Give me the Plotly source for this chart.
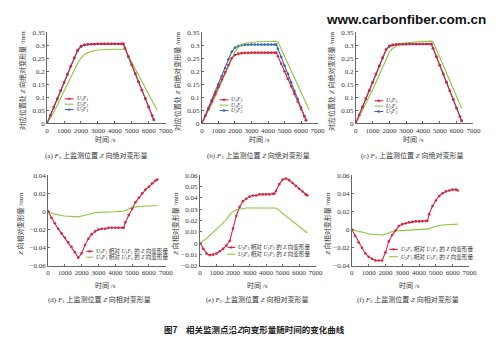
import plotly.graph_objects as go

# ---------------- data ----------------
T_ABS = [0, 200, 400, 600, 800, 1000, 1200, 1400, 1600, 1800, 2000, 2200, 2400, 2600,
         2800, 3000, 3200, 3400, 3600, 3800, 4000, 4200, 4400, 4500, 4600, 4800, 5000,
         5200, 5400, 5600, 5800, 6000, 6200, 6300]
T_LONG = [0, 200, 400, 600, 800, 1000, 1200, 1400, 1600, 1800, 2000, 2200, 2400, 2600,
          2800, 3000, 3200, 3400, 3600, 3800, 4000, 4200, 4400, 4500, 4600, 4800, 5000,
          5200, 5400, 5600, 5800, 6000, 6200, 6400, 6500]

# (a) F1 absolute
A_RED = [0, 0.031, 0.063, 0.094, 0.126, 0.157, 0.189, 0.220, 0.252, 0.282, 0.297, 0.302,
         0.304, 0.305, 0.305, 0.306, 0.306, 0.306, 0.306, 0.306, 0.306, 0.306, 0.306, 0.306,
         0.290, 0.257, 0.225, 0.192, 0.160, 0.128, 0.095, 0.063, 0.030, 0.014]
A_GREEN = [0, 0.019, 0.043, 0.069, 0.096, 0.124, 0.152, 0.180, 0.207, 0.231, 0.251, 0.264,
           0.272, 0.277, 0.280, 0.282, 0.283, 0.284, 0.284, 0.285, 0.285, 0.285, 0.285, 0.285,
           0.284, 0.259, 0.235, 0.210, 0.185, 0.161, 0.136, 0.112, 0.087, 0.062, 0.050]
A_BLUE = [0, 0.030, 0.062, 0.093, 0.125, 0.156, 0.187, 0.219, 0.250, 0.279, 0.295, 0.301,
          0.303, 0.304, 0.304, 0.305, 0.305, 0.305, 0.305, 0.305, 0.305, 0.305, 0.305, 0.305,
          0.289, 0.256, 0.224, 0.191, 0.159, 0.127, 0.094, 0.062, 0.029, 0.013]

# (b) F2 absolute
B_RED = [0, 0.028, 0.056, 0.084, 0.112, 0.140, 0.168, 0.196, 0.224, 0.250, 0.263, 0.268,
         0.270, 0.271, 0.271, 0.272, 0.272, 0.272, 0.272, 0.272, 0.272, 0.272, 0.272, 0.272,
         0.258, 0.229, 0.200, 0.171, 0.142, 0.113, 0.084, 0.055, 0.026, 0.012]
B_GREEN = [0, 0.023, 0.047, 0.074, 0.102, 0.132, 0.162, 0.192, 0.222, 0.251, 0.275, 0.292,
           0.302, 0.308, 0.310, 0.312, 0.313, 0.314, 0.314, 0.315, 0.315, 0.315, 0.315, 0.315,
           0.314, 0.286, 0.258, 0.231, 0.203, 0.175, 0.147, 0.120, 0.092, 0.064, 0.050]
B_BLUE = [0, 0.030, 0.059, 0.089, 0.119, 0.150, 0.181, 0.213, 0.245, 0.275, 0.291, 0.297,
          0.300, 0.302, 0.302, 0.303, 0.303, 0.303, 0.303, 0.303, 0.303, 0.303, 0.303, 0.303,
          0.287, 0.255, 0.222, 0.190, 0.158, 0.125, 0.093, 0.061, 0.028, 0.012]

# (c) F3 absolute
C_RED = [0, 0.032, 0.063, 0.095, 0.126, 0.158, 0.190, 0.221, 0.253, 0.284, 0.298, 0.302,
         0.303, 0.304, 0.304, 0.304, 0.305, 0.305, 0.305, 0.305, 0.305, 0.305, 0.305, 0.305,
         0.289, 0.256, 0.223, 0.190, 0.158, 0.125, 0.092, 0.059, 0.026, 0.010]
C_GREEN = [0, 0.025, 0.049, 0.075, 0.100, 0.128, 0.158, 0.187, 0.219, 0.250, 0.273, 0.289,
           0.297, 0.303, 0.308, 0.310, 0.312, 0.313, 0.314, 0.314, 0.315, 0.315, 0.315, 0.316,
           0.314, 0.284, 0.254, 0.224, 0.194, 0.164, 0.134, 0.104, 0.074, 0.058]
C_BLUE = [0, 0.031, 0.062, 0.094, 0.125, 0.157, 0.188, 0.220, 0.251, 0.282, 0.296, 0.301,
          0.303, 0.304, 0.304, 0.305, 0.305, 0.305, 0.305, 0.305, 0.305, 0.305, 0.305, 0.305,
          0.289, 0.256, 0.223, 0.190, 0.157, 0.124, 0.091, 0.058, 0.025, 0.009]

# (d) F1 relative
D_RED = [0, -0.007, -0.013, -0.019, -0.024, -0.029, -0.034, -0.039, -0.045, -0.051, -0.046,
         -0.037, -0.030, -0.025, -0.022, -0.020, -0.019, -0.019, -0.018, -0.018, -0.018,
         -0.018, -0.018, -0.018, -0.012, -0.004, 0.003, 0.010, 0.015, 0.020, 0.024, 0.027,
         0.031, 0.034, 0.035]
D_GREEN = [0, -0.002, -0.003, -0.004, -0.0045, -0.005, -0.0053, -0.0056, -0.006, -0.006,
           -0.005, -0.004, -0.003, -0.002, -0.0015, -0.001, -0.001, -0.0008, -0.0006,
           -0.0005, -0.0003, 0, 0, 0.0002, 0.001, 0.003, 0.0042, 0.005, 0.0055, 0.0058,
           0.006, 0.006, 0.0062, 0.0065, 0.0065]

# (e) F2 relative
E_RED = [0, -0.005, -0.009, -0.0105, -0.010, -0.009, -0.007, -0.005, -0.002, 0.002, 0.013,
         0.024, 0.032, 0.037, 0.039, 0.041, 0.042, 0.042, 0.043, 0.043, 0.043, 0.043, 0.0435,
         0.0435, 0.046, 0.052, 0.056, 0.057, 0.0555, 0.053, 0.0505, 0.048, 0.0455, 0.043, 0.042]
E_GREEN = [0, 0.002, 0.004, 0.007, 0.0095, 0.012, 0.015, 0.018, 0.021, 0.025, 0.028, 0.0295,
           0.030, 0.031, 0.031, 0.031, 0.031, 0.031, 0.031, 0.0315, 0.0315, 0.0315, 0.0315,
           0.0315, 0.031, 0.0287, 0.0264, 0.0241, 0.0218, 0.0195, 0.0172, 0.0149, 0.0126,
           0.0103, 0.009]

# (f) F3 relative
F_RED = [0, -0.007, -0.014, -0.020, -0.026, -0.030, -0.032, -0.034, -0.034, -0.034, -0.025,
         -0.013, -0.006, -0.001, 0.004, 0.006, 0.007, 0.008, 0.0085, 0.009, 0.009, 0.0092,
         0.0095, 0.0097, 0.017, 0.026, 0.032, 0.037, 0.040, 0.042, 0.043, 0.044, 0.044, 0.043]
F_GREEN = [0, -0.001, -0.002, -0.003, -0.004, -0.0045, -0.005, -0.0055, -0.006, -0.006,
           -0.005, -0.0035, -0.002, -0.0015, -0.001, -0.001, -0.0008, -0.0006, -0.0005,
           -0.0004, -0.0003, -0.0002, 0, 0, 0.0008, 0.0025, 0.0038, 0.0045, 0.005, 0.0053,
           0.0056, 0.0058, 0.006, 0.006]

X_TICKS = [0, 1000, 2000, 3000, 4000, 5000, 6000, 7000]

# ---------------- styling ----------------
W, H = 500, 355
RED = "#d4263f"
GREEN = "#8cc63e"
BLUE = "#3a66b2"
AXC = "#666666"
TXT = "#333333"
SERIF = "Liberation Serif, Noto Sans CJK SC"
CJK = "Liberation Serif, Noto Sans CJK SC"
TICKSZ = 7


def px(x):
    return x / W


def py(y):
    return 1 - y / H


def U(i, f):
    return f"<i>U</i><sub>{i}</sub><i>F</i><sub>{f}</sub>"


TOP_Y = (29, 122)
BOT_Y = (175, 268)

panels = [
    dict(xd=(46, 167), yd=TOP_Y, yr=[0, 0.35], dt=0.05, kind="abs", f=1,
         series=[(T_ABS, A_BLUE, BLUE, True), (T_LONG, A_GREEN, GREEN, False), (T_ABS, A_RED, RED, True)],
         leg=dict(rows=[97, 102.5, 108], x0=64, x1=73),
         ytx=21, xtx=106, cap=("(a)", 96)),
    dict(xd=(204, 322), yd=TOP_Y, yr=[0, 0.35], dt=0.05, kind="abs", f=2,
         series=[(T_ABS, B_BLUE, BLUE, True), (T_LONG, B_GREEN, GREEN, False), (T_ABS, B_RED, RED, True)],
         leg=dict(rows=[98, 103.5, 109], x0=222, x1=231),
         ytx=179, xtx=263, cap=("(b)", 262)),
    dict(xd=(361, 481), yd=TOP_Y, yr=[0, 0.35], dt=0.05, kind="abs", f=3,
         series=[(T_ABS, C_BLUE, BLUE, True), (T_ABS, C_GREEN, GREEN, False), (T_ABS, C_RED, RED, True)],
         leg=dict(rows=[99, 104.5, 110], x0=380, x1=389),
         ytx=336, xtx=420, cap=("(c)", 418)),
    dict(xd=(47, 167), yd=BOT_Y, yr=[-0.06, 0.04], dt=0.02, kind="rel", f=1,
         series=[(T_LONG, D_GREEN, GREEN, False), (T_LONG, D_RED, RED, True)],
         leg=dict(rows=[253, 259], x0=86, x1=93),
         ytx=19, xtx=106, cap=("(d)", 99)),
    dict(xd=(202, 320), yd=BOT_Y, yr=[-0.02, 0.06], dt=0.01, kind="rel", f=2,
         series=[(T_LONG, E_GREEN, GREEN, False), (T_LONG, E_RED, RED, True)],
         leg=dict(rows=[249, 256], x0=230, x1=238),
         ytx=177, xtx=261, cap=("(e)", 260)),
    dict(xd=(357, 477), yd=BOT_Y, yr=[-0.04, 0.06], dt=0.02, kind="rel", f=3,
         series=[(T_ABS, F_GREEN, GREEN, False), (T_ABS, F_RED, RED, True)],
         leg=dict(rows=[251, 258.5], x0=395, x1=404),
         ytx=332, xtx=416, cap=("(f)", 414)),
]

fig = go.Figure()
layout = dict(
    width=W, height=H,
    margin=dict(l=0, r=0, t=0, b=0),
    paper_bgcolor="white", plot_bgcolor="white",
    showlegend=False,
    font=dict(family=SERIF, size=7, color=TXT),
)
annotations = []
shapes = []

for i, p in enumerate(panels):
    n = "" if i == 0 else str(i + 1)
    xa, ya = "xaxis" + n, "yaxis" + n
    xr, yr = "x" + n, "y" + n
    layout[xa] = dict(
        domain=[px(p["xd"][0]), px(p["xd"][1])], anchor=yr, range=[0, 7000],
        tickvals=X_TICKS, showline=True, linecolor=AXC, linewidth=1,
        showgrid=False, zeroline=False, ticks="inside", ticklen=2, tickcolor=AXC,
        tickfont=dict(family=SERIF, size=TICKSZ, color=TXT), fixedrange=True,
    )
    layout[ya] = dict(
        domain=[py(p["yd"][1]), py(p["yd"][0])], anchor=xr, range=p["yr"],
        dtick=p["dt"], tick0=0, showline=True, linecolor=AXC, linewidth=1,
        showgrid=False, zeroline=False, ticks="inside", ticklen=2, tickcolor=AXC,
        tickfont=dict(family=SERIF, size=TICKSZ, color=TXT), fixedrange=True,
    )
    for t, v, c, mk in p["series"]:
        fig.add_trace(go.Scatter(
            x=t, y=v, xaxis=xr, yaxis=yr,
            mode="lines+markers" if mk else "lines",
            line=dict(color=c, width=1.1),
            marker=dict(size=2.6, color=c, symbol="circle"),
            hoverinfo="skip",
        ))

    f = p["f"]
    lg = p["leg"]
    if p["kind"] == "abs":
        entries = [(U(1, f), RED, True), (U(2, f), GREEN, False), (U(3, f), BLUE, True)]
    else:
        entries = [(U(2, f) + " 相对 " + U(1, f) + " 的 <i>Z</i> 向变形量", RED, True),
                   (U(3, f) + " 相对 " + U(1, f) + " 的 <i>Z</i> 向变形量", GREEN, False)]
    for (label, col, mk), row in zip(entries, lg["rows"]):
        shapes.append(dict(type="line", xref="paper", yref="paper",
                           x0=px(lg["x0"]), x1=px(lg["x1"]), y0=py(row), y1=py(row),
                           line=dict(color=col, width=1.1)))
        if mk:
            cx = (lg["x0"] + lg["x1"]) / 2
            shapes.append(dict(type="circle", xref="paper", yref="paper",
                               x0=px(cx - 1.2), x1=px(cx + 1.2), y0=py(row + 1.2), y1=py(row - 1.2),
                               fillcolor=col, line=dict(color=col, width=0)))
        annotations.append(dict(text=label, xref="paper", yref="paper",
                                x=px(lg["x1"] + 1), y=py(row), xanchor="left", yanchor="middle",
                                showarrow=False, font=dict(family=CJK, size=5.6, color=TXT)))

    yc = (p["yd"][0] + p["yd"][1]) / 2
    if p["kind"] == "abs":
        ytitle = "对应位置处 <i>Z</i> 向绝对变形量 /mm"
        captxt = " 上监测位置 <i>Z</i> 向绝对变形量"
        xt_y, cap_y = 138.5, 155
    else:
        ytitle = "<i>Z</i> 向相对变形量 /mm"
        captxt = " 上监测位置 <i>Z</i> 向相对变形量"
        xt_y, cap_y = 287.5, 302
    annotations.append(dict(text=ytitle, xref="paper", yref="paper",
                            x=px(p["ytx"]), y=py(yc + 3), textangle=-90,
                            xanchor="center", yanchor="middle", showarrow=False,
                            font=dict(family=CJK, size=7, color=TXT)))
    annotations.append(dict(text="时间 /s", xref="paper", yref="paper",
                            x=px(p["xtx"]), y=py(xt_y), xanchor="center", yanchor="middle",
                            showarrow=False, font=dict(family=CJK, size=7, color=TXT)))
    annotations.append(dict(text=p["cap"][0] + " <i>F</i><sub>%d</sub>" % f + captxt,
                            xref="paper", yref="paper",
                            x=px(p["cap"][1]), y=py(cap_y), xanchor="center", yanchor="middle",
                            showarrow=False, font=dict(family=CJK, size=7, color=TXT)))

annotations.append(dict(text="图7　相关监测点沿<i>Z</i>向变形量随时间的变化曲线",
                        xref="paper", yref="paper", x=px(258), y=py(333),
                        xanchor="center", yanchor="middle", showarrow=False,
                        font=dict(family="Noto Sans CJK SC", size=8.5, color="#222222", weight="bold")))
annotations.append(dict(text="www.carbonfiber.com.cn", xref="paper", yref="paper",
                        x=px(412), y=py(16), xanchor="center", yanchor="middle", showarrow=False,
                        font=dict(family="Liberation Sans", size=13.5, color="#111111", weight="bold")))

layout["annotations"] = annotations
layout["shapes"] = shapes
fig.update_layout(**layout)
fig.write_html("out.html")
